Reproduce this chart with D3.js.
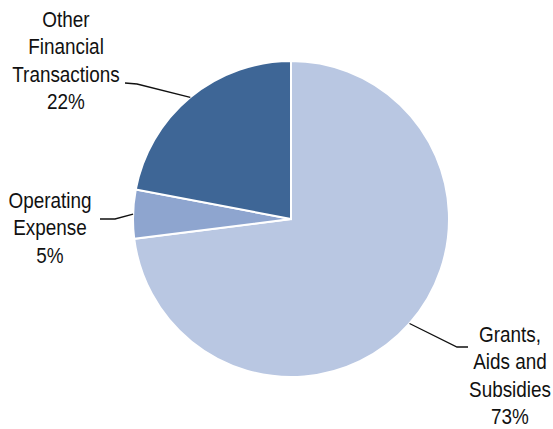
<!DOCTYPE html>
<html>
<head>
<meta charset="utf-8">
<script src="https://cdn.jsdelivr.net/npm/d3@7"></script>
<style>
  body { margin: 0; background: #fff; }
  text { font-family: "Liberation Sans", Arial, sans-serif; fill: #111; }
</style>
</head>
<body>
<svg width="553" height="429"></svg>
<script>
// data
const categories = ["Grants, Aids and Subsidies", "Operating Expense", "Other Financial Transactions"];
const values = [73, 5, 22];
const labelLines = [["Grants,", "Aids and", "Subsidies"], ["Operating", "Expense"], ["Other", "Financial", "Transactions"]];
const colors = ["#b9c7e2", "#8ea5cf", "#3e6696"];

const svg = d3.select("svg");
const cx = 291, cy = 219, radius = 158;

// label placement (x centre, first baseline, leader elbow and end)
const labelPos = [
  { x: 510, y: 342, elbow: [457, 347], end: [468, 347] },
  { x: 50, y: 208, elbow: [115, 219], end: [100, 219] },
  { x: 66, y: 27, elbow: [137, 84], end: [125, 83] }
];

const pie = d3.pie().sort(null).value(function(d) { return d; });
const arc = d3.arc().innerRadius(0).outerRadius(radius);
const arcs = pie(values);

const g = svg.append("g").attr("transform", "translate(" + cx + "," + cy + ")");

g.selectAll("path")
  .data(arcs)
  .join("path")
  .attr("d", arc)
  .attr("fill", function(d, i) { return colors[i]; })
  .attr("stroke", "#fff")
  .attr("stroke-width", 2);

// leader lines
svg.selectAll(".leader")
  .data(arcs)
  .join("polyline")
  .attr("class", "leader")
  .attr("fill", "none")
  .attr("stroke", "#111")
  .attr("stroke-width", 1.3)
  .attr("points", function(d, i) {
    const a = (d.startAngle + d.endAngle) / 2;
    const p0 = [cx + radius * Math.sin(a), cy - radius * Math.cos(a)];
    const p = labelPos[i];
    return [p0, p.elbow, p.end].map(function(q) { return q.join(","); }).join(" ");
  });

// labels
const lineH = 27.5;
arcs.forEach(function(d, i) {
  const p = labelPos[i];
  const lines = labelLines[i].concat([d.data + "%"]);
  const t = svg.append("g")
    .attr("transform", "translate(" + p.x + "," + p.y + ") scale(0.86,1)");
  t.selectAll("text")
    .data(lines)
    .join("text")
    .attr("x", 0)
    .attr("y", function(s, j) { return j * lineH; })
    .attr("text-anchor", "middle")
    .attr("font-size", 22)
    .text(function(s) { return s; });
});
</script>
</body>
</html>
